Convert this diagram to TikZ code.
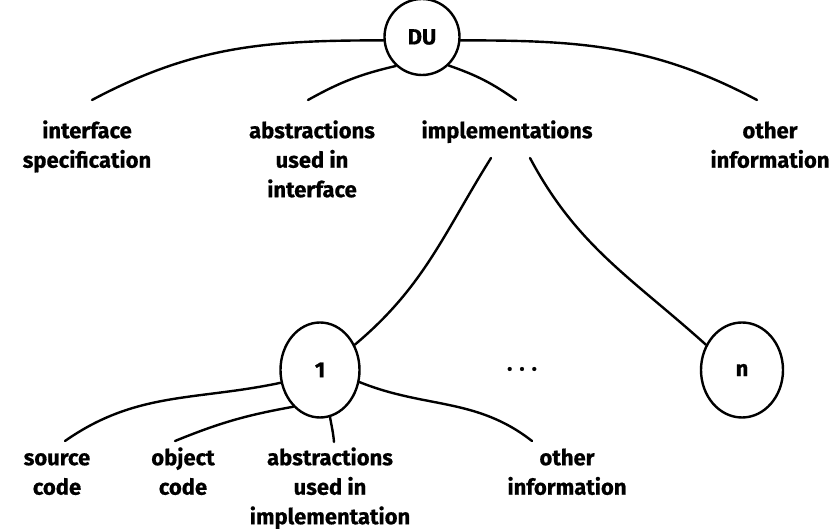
\documentclass[tikz,border=0pt]{standalone}
\usepackage{fontspec}
\setmainfont{Fira Sans}[BoldFeatures={FakeBold=0.6}]
\usetikzlibrary{shapes.geometric}
\newcommand{\labfont}{\bfseries\fontsize{22}{29.5}\selectfont}
\newcommand{\fl}{\rule{0pt}{21pt}}
\begin{document}
\begin{tikzpicture}[x=1pt,y=1pt,
  every node/.style={font=\labfont},
  unit/.style={draw,ellipse,line width=2.4pt,inner sep=0pt},
  lab/.style={align=center,anchor=north,inner sep=0pt},
  conn/.style={line width=2.4pt,line cap=round}]
\useasboundingbox (0,0) rectangle (832,529);
% circles
\node[unit,minimum width=75,minimum height=76] (du) at (422,492) {DU};
\node[unit,minimum width=79,minimum height=95] (c1) at (320,159) {1};
\node[unit,minimum width=82,minimum height=95] (cn) at (742,159) {n};
\node (dots) at (522,160) {.\hspace{7pt}.\hspace{7pt}.};
% top labels
\node[lab] (iface) at (87,412) {\fl interface\\specification};
\node[lab] (absI) at (312,412) {\fl abstractions\\used in\\interface};
\node[lab] (impls) at (507,412) {\fl implementations};
\node[lab] (oinfo) at (770,412) {\fl other\\information};
% bottom labels
\node[lab] (src) at (57,85) {\fl source\\code};
\node[lab] (obj) at (183,85) {\fl object\\code};
\node[lab] (absP) at (330,85) {\fl abstractions\\used in\\implementation};
\node[lab] (oinfoP) at (567,85) {\fl other\\information};
% connector ends
\coordinate (eiface) at (92,429);
\coordinate (eabsI) at (308,429);
\coordinate (eimpl) at (516,429);
\coordinate (eoinfo) at (757,429);
\coordinate (simplL) at (491,371);
\coordinate (simplR) at (530,371);
\coordinate (esrc) at (65,88);
\coordinate (eobj) at (175,88);
\coordinate (eabsP) at (334,87);
\coordinate (eoinfoP) at (532,88);
% connectors
\draw[conn] (du.185) to[out=180,in=28] (eiface);
\draw[conn] (du.228) to[bend right=8] (eabsI);
\draw[conn] (du.313) to[bend left=8] (eimpl);
\draw[conn] (du.355) to[out=0,in=152] (eoinfo);
\draw[conn] (simplL) to[out=238,in=40] (c1.36);
\draw[conn] (simplR) to[out=298,in=138] (cn.145);
\draw[conn] (c1.198) to[out=192,in=35] (esrc);
\draw[conn] (c1.234) to[bend right=6] (eobj);
\draw[conn] (c1.282) to[out=280,in=95] (eabsP);
\draw[conn] (c1.343) to[out=338,in=142] (eoinfoP);
\end{tikzpicture}
\end{document}
